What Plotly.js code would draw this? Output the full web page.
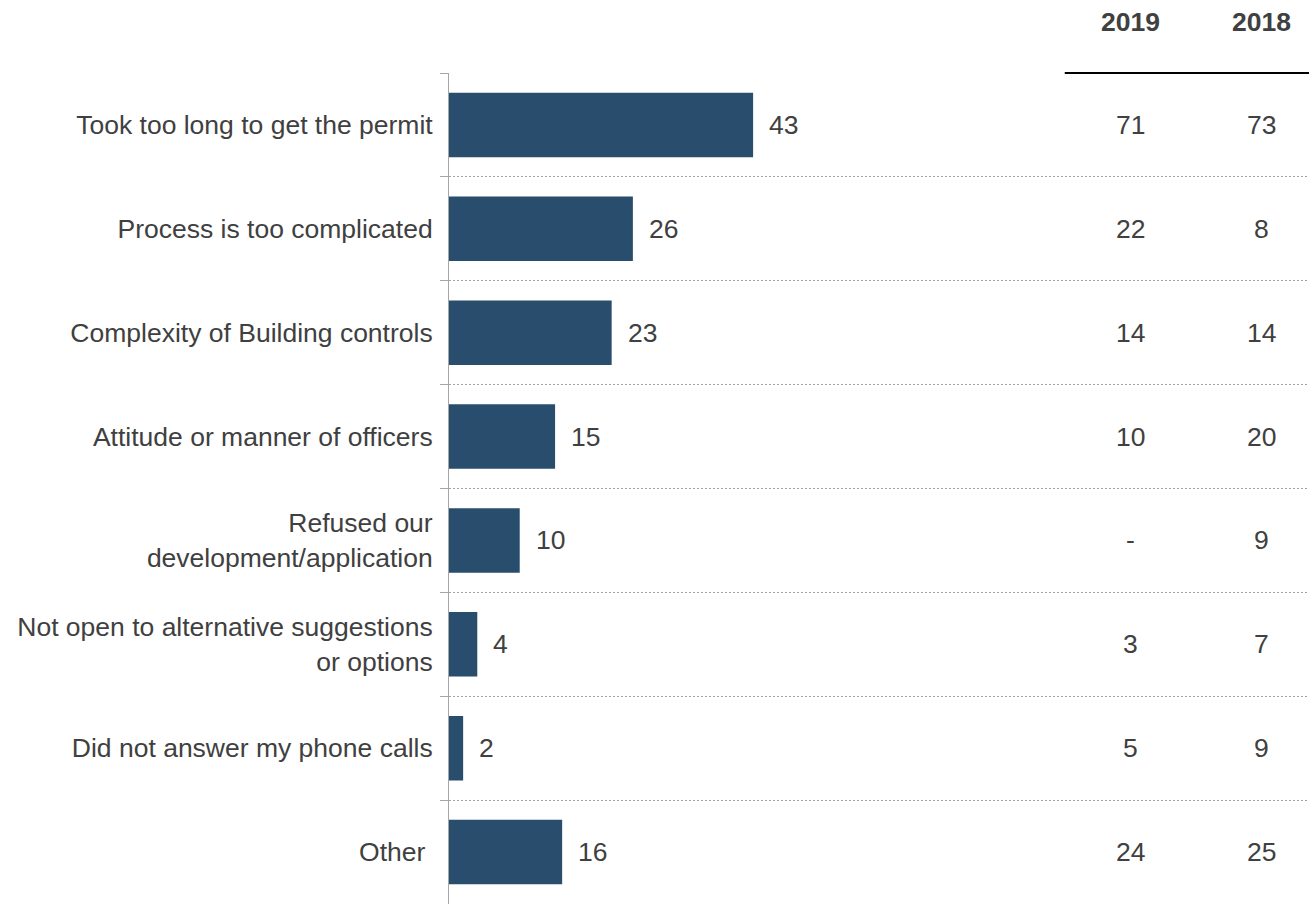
<!DOCTYPE html>
<html>
<head>
<meta charset="utf-8">
<script src="https://cdn.plot.ly/plotly-3.0.1.min.js"></script>
<style>html,body{margin:0;padding:0;background:#fff;}#chart{width:1309px;height:904px;}</style>
</head>
<body>
<div id="chart"></div>
<script>
const categories = [
  "Took too long to get the permit",
  "Process is too complicated",
  "Complexity of Building controls",
  "Attitude or manner of officers",
  "Refused our<br>development/application",
  "Not open to alternative suggestions<br>or options",
  "Did not answer my phone calls",
  "Other\u00a0"
];
const values2020 = [43, 26, 23, 15, 10, 4, 2, 16];
const values2019 = ["71", "22", "14", "10", "-", "3", "5", "24"];
const values2018 = ["73", "8", "14", "20", "9", "7", "9", "25"];
const columnHeaders = ["2019", "2018"];

const textColor = "#404040";
const fontFamily = "Liberation Sans, Arial, sans-serif";
const fs = 26.5;

const trace = {
  type: "bar",
  orientation: "h",
  y: categories,
  x: values2020,
  marker: {color: "#294d6d"},
  width: 0.62,
  hoverinfo: "none"
};

const annotations = [];
categories.forEach((c, i) => {
  annotations.push({
    x: values2020[i], y: c, xref: "x", yref: "y",
    text: String(values2020[i]), showarrow: false,
    xanchor: "left", xshift: 14,
    font: {size: fs, color: textColor, family: fontFamily}
  });
});
const colX = [0.793, 0.945];
[values2019, values2018].forEach((col, j) => {
  col.forEach((v, i) => {
    annotations.push({
      x: colX[j], y: categories[i], xref: "paper", yref: "y",
      text: v, showarrow: false, xanchor: "center",
      font: {size: fs, color: textColor, family: fontFamily}
    });
  });
  annotations.push({
    x: colX[j], y: 1.0614, xref: "paper", yref: "paper",
    text: "<b>" + columnHeaders[j] + "</b>", showarrow: false,
    xanchor: "center", yanchor: "middle",
    font: {size: fs, color: textColor, family: fontFamily}
  });
});

const layout = {
  width: 1309, height: 904,
  margin: {l: 449, r: 0, t: 73, b: 0, pad: 0},
  paper_bgcolor: "#ffffff", plot_bgcolor: "#ffffff",
  showlegend: false,
  font: {family: fontFamily, color: textColor, size: fs},
  xaxis: {
    range: [0, 121.6], showgrid: false, zeroline: false,
    showline: false, showticklabels: false, ticks: "", fixedrange: true
  },
  yaxis: {
    type: "category", autorange: "reversed",
    tickson: "boundaries", ticks: "outside", ticklen: 8, tickcolor: "#a6a6a6", tickwidth: 1,
    showline: true, linecolor: "#a6a6a6", linewidth: 1,
    showgrid: true, gridcolor: "#a0a0a0", griddash: "2px,2px", gridwidth: 1,
    zeroline: false,
    tickfont: {size: fs, color: textColor, family: fontFamily},
    ticklabelstandoff: 10
  },
  shapes: [{
    type: "line", xref: "paper", yref: "paper",
    x0: 0.716, x1: 1, y0: 1, y1: 1,
    line: {color: "#000000", width: 2}
  }],
  annotations: annotations
};

Plotly.newPlot("chart", [trace], layout, {displayModeBar: false, staticPlot: true});
</script>
</body>
</html>
